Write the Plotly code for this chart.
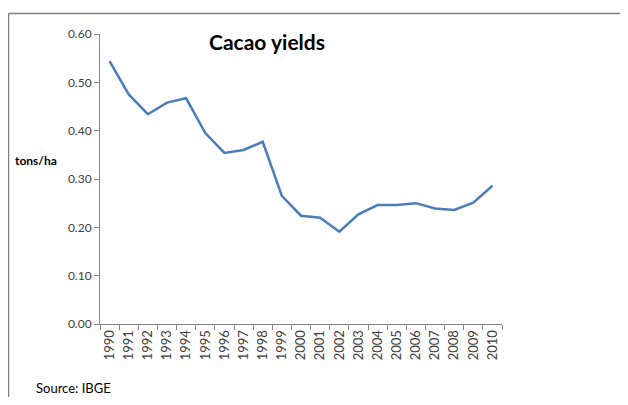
import plotly.graph_objects as go

years = [str(y) for y in range(1990, 2011)]
yields = [0.544, 0.475, 0.434, 0.458, 0.467, 0.395, 0.354, 0.360, 0.377, 0.265,
          0.224, 0.220, 0.191, 0.227, 0.246, 0.246, 0.250, 0.239, 0.236, 0.251, 0.286]
y_ticks = [0.0, 0.1, 0.2, 0.3, 0.4, 0.5, 0.6]
y_tick_labels = ["0.00", "0.10", "0.20", "0.30", "0.40", "0.50", "0.60"]

# The page body has an 8px margin; work in page pixels and convert.
OFF = 8
PAGE_W, PAGE_H = 628, 405
W, H = PAGE_W - 2 * OFF, PAGE_H - 2 * OFF
PL, PR, PT, PB = 100, 502, 34, 324  # plot area in page pixels
L, T = PL - OFF, PT - OFF
R, B = W - (PR - OFF), H - (PB - OFF)
pw, ph = PR - PL, PB - PT

def px_x(p):
    return (p - PL) / pw

def px_y(p):
    return (PB - p) / ph

FONT = "Lato"
BORDER = dict(color="#808080", width=1.5)
fig = go.Figure()
fig.add_trace(go.Scatter(x=years, y=yields, mode="lines",
                         line=dict(color="#4A7EBB", width=2.5), showlegend=False))

fig.update_layout(
    width=W, height=H,
    margin=dict(l=L, r=R, t=T, b=B),
    paper_bgcolor="white", plot_bgcolor="white",
    font=dict(family=FONT, color="#404040", size=12),
    title=dict(text="<b>Cacao yields</b>", x=(267 - OFF) / W, xref="container", xanchor="center",
               y=1 - (43 - OFF) / H, yref="container", yanchor="middle",
               font=dict(family=FONT, size=21, color="black")),
    xaxis=dict(type="category", tickangle=-90, showline=True, linecolor="#868686", linewidth=1,
               ticks="outside", ticklen=5, tickcolor="#868686", tickson="boundaries",
               showgrid=False, tickfont=dict(size=13, color="#404040"), range=[-0.5, 20.5]),
    yaxis=dict(range=[0, 0.6], tickvals=y_ticks, ticktext=y_tick_labels, showline=True,
               linecolor="#868686", linewidth=1, ticks="outside", ticklen=5, tickcolor="#868686",
               showgrid=False, zeroline=False, tickfont=dict(size=12, color="#404040")),
    shapes=[
        dict(type="line", xref="paper", yref="paper",
             x0=px_x(8.5), x1=px_x(640), y0=px_y(13.5), y1=px_y(13.5), line=BORDER),
        dict(type="line", xref="paper", yref="paper",
             x0=px_x(8.5), x1=px_x(8.5), y0=px_y(13.5), y1=px_y(420), line=BORDER),
    ],
    annotations=[
        dict(text="<b>tons/ha</b>", xref="paper", yref="paper", x=px_x(13), y=px_y(160),
             xanchor="left", yanchor="middle", showarrow=False,
             font=dict(family=FONT, size=12, color="black")),
        dict(text="Source: IBGE", xref="paper", yref="paper", x=px_x(34), y=px_y(398),
             xanchor="left", yanchor="bottom", showarrow=False,
             font=dict(family=FONT, size=13, color="black")),
    ],
)

fig.write_html("out.html")
